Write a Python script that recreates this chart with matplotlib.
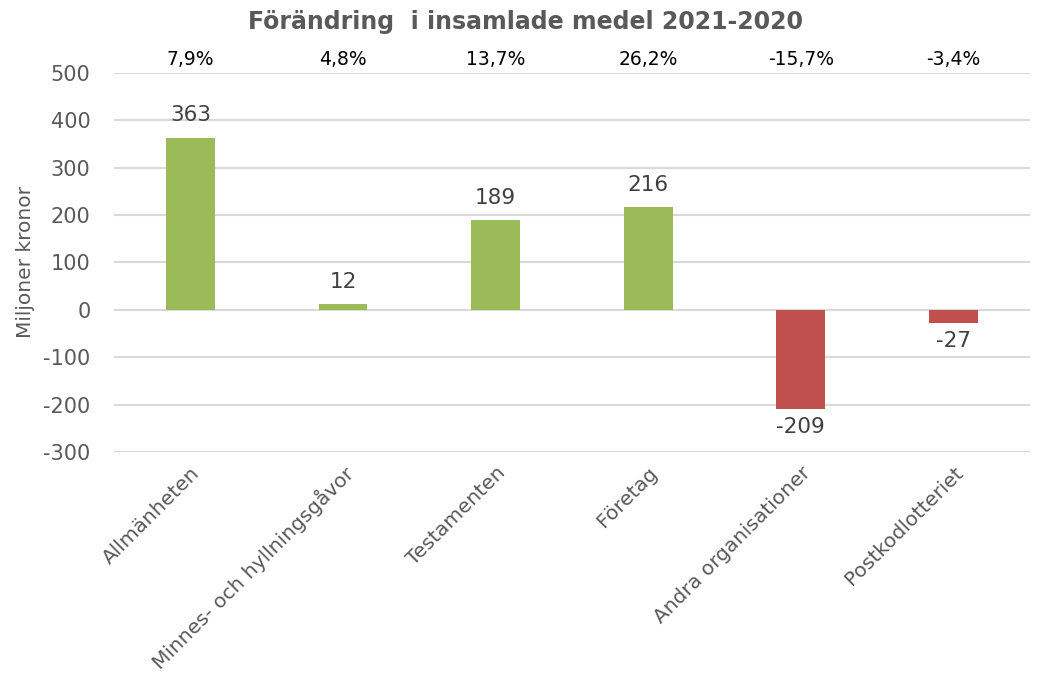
import matplotlib
matplotlib.use("Agg")
import matplotlib.pyplot as plt

categories = ["Allmänheten", "Minnes- och hyllningsgåvor", "Testamenten", "Företag",
              "Andra organisationer", "Postkodlotteriet"]
values = [363, 12, 189, 216, -209, -27]
pct_labels = ["7,9%", "4,8%", "13,7%", "26,2%", "-15,7%", "-3,4%"]
title = "Förändring  i insamlade medel 2021-2020"
ylabel = "Miljoner kronor"
yticks = [-300, -200, -100, 0, 100, 200, 300, 400, 500]

GREEN = "#9BBB59"
RED = "#C0504D"

plt.rcParams['font.family'] = ['DejaVu Sans']

fig = plt.figure(figsize=(10.37, 6.87), dpi=100)
ax = fig.add_axes([0.110, 0.342, 0.883, 0.552])

x = list(range(len(categories)))
colors = [GREEN if v >= 0 else RED for v in values]
ax.bar(x, values, width=0.32, color=colors, zorder=3)

ax.set_xlim(-0.5, len(categories) - 0.5)
ax.set_ylim(-300, 500)
ax.set_yticks(yticks)
ax.set_yticklabels([str(t) for t in yticks], fontsize=15, color="#595959")
ax.grid(axis='y', color="#D9D9D9", linewidth=1.5, zorder=0)
ax.set_axisbelow(True)
for s in ax.spines.values():
    s.set_visible(False)
ax.tick_params(axis='both', length=0)
ax.tick_params(axis='y', pad=17)

ax.set_xticks(x)
ax.set_xticklabels(categories, rotation=45, ha='right', rotation_mode='anchor',
                   fontsize=14.5, color="#595959")
ax.tick_params(axis='x', pad=8)

ax.set_ylabel(ylabel, fontsize=14.5, color="#595959", labelpad=6)

for xi, v in zip(x, values):
    if v >= 0:
        ax.annotate(str(v), (xi, v), xytext=(0, 9), textcoords='offset points',
                    ha='center', va='bottom', fontsize=15.5, color="#404040")
    else:
        ax.annotate(str(v), (xi, v), xytext=(0, -6), textcoords='offset points',
                    ha='center', va='top', fontsize=15.5, color="#404040")

for xi, p in zip(x, pct_labels):
    ax.annotate(p, (xi, 500), xytext=(0, 3), textcoords='offset points',
                ha='center', va='bottom', fontsize=13.5, color="black")

fig.text(0.507, 0.968, title, ha='center', va='center', fontsize=17,
         fontweight='bold', color="#595959")

fig.savefig("out.png", dpi=100)
